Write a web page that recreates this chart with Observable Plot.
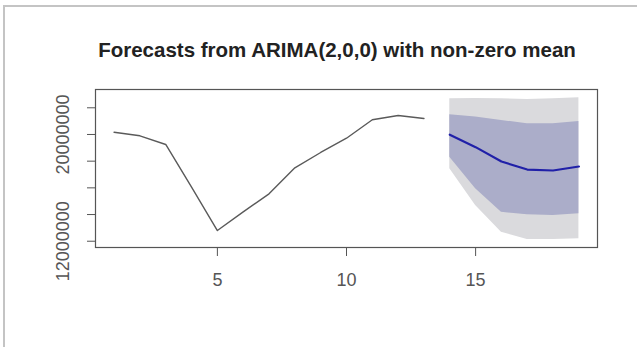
<!DOCTYPE html>
<html>
<head>
<meta charset="utf-8">
<script src="https://cdn.jsdelivr.net/npm/d3@7"></script>
<script src="https://cdn.jsdelivr.net/npm/@observablehq/plot@0.6"></script>
<style>
  html, body { margin: 0; padding: 0; background: #fff; }
  #wrap { position: relative; width: 637px; height: 347px; overflow: hidden; font-family: "Liberation Sans", Arial, sans-serif; }
  #frame { position: absolute; left: 3px; top: 5px; width: 640px; height: 350px; border-left: 2px solid #c4c4c4; border-top: 2px solid #c4c4c4; }
  #title { position: absolute; left: 37px; width: 600px; top: 38px; text-align: center; font-weight: bold; font-size: 20.5px; color: #222; line-height: 24px; }
  #chart { position: absolute; left: 0; top: 70px; }
</style>
</head>
<body>
<div id="wrap">
  <div id="frame"></div>
  <div id="title">Forecasts from ARIMA(2,0,0) with non-zero mean</div>
  <div id="chart"></div>
</div>
<script>
// Historical series
const histX = [1, 2, 3, 4, 5, 6, 7, 8, 9, 10, 11, 12, 13];
const histY = [20170000, 19900000, 19250000, 16050000, 12800000, 14200000, 15550000, 17500000, 18650000, 19720000, 21100000, 21420000, 21200000];

// Forecast horizon
const fcX = [14, 15, 16, 17, 18, 19];
const fcMean = [19980000, 19050000, 17970000, 17370000, 17300000, 17600000];
const lo80 = [18300000, 15930000, 14170000, 13980000, 13930000, 14050000];
const hi80 = [21480000, 21300000, 21050000, 20800000, 20800000, 20970000];
const lo95 = [17430000, 14680000, 12670000, 12130000, 12130000, 12180000];
const hi95 = [22670000, 22700000, 22670000, 22620000, 22670000, 22750000];

// Axis ticks
const xTicks = [5, 10, 15];
const yTicks = [12000000, 14000000, 16000000, 18000000, 20000000, 22000000];
const yLabeled = [12000000, 20000000];

const hist = histX.map((x, i) => ({x, y: histY[i]}));
const fc = fcX.map((x, i) => ({x, mean: fcMean[i], lo80: lo80[i], hi80: hi80[i], lo95: lo95[i], hi95: hi95[i]}));

const chart = Plot.plot({
  width: 637,
  height: 277,
  marginLeft: 95,
  marginRight: 40,
  marginTop: 19,
  marginBottom: 100,
  style: { fontFamily: "'Liberation Sans', Arial, sans-serif", fontSize: "18px", color: "#555", background: "transparent" },
  x: { domain: [0.28, 19.72] },
  y: { domain: [11530000, 23370000] },
  marks: [
    Plot.areaY(fc, { x: "x", y1: "lo95", y2: "hi95", fill: "#dadadd" }),
    Plot.areaY(fc, { x: "x", y1: "lo80", y2: "hi80", fill: "#abadc9" }),
    Plot.line(fc, { x: "x", y: "mean", stroke: "#2020a8", strokeWidth: 2.2 }),
    Plot.line(hist, { x: "x", y: "y", stroke: "#5a5a5a", strokeWidth: 1.4 }),
    Plot.frame({ stroke: "#555", strokeWidth: 1.2 }),
    Plot.axisX({ ticks: xTicks, tickSize: 9, tickPadding: 17, tickFormat: d => String(d), label: null, stroke: "#555" }),
    Plot.axisY({ ticks: yTicks, tickSize: 8, tickPadding: 19, tickRotate: -90,
      tickFormat: d => yLabeled.includes(d) ? d3.format("d")(d) : "", label: null })
  ]
});
document.getElementById("chart").appendChild(chart);
</script>
</body>
</html>
